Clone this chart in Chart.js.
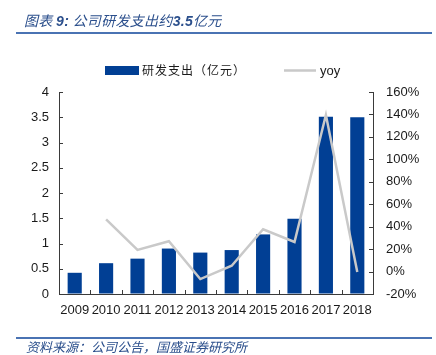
<!DOCTYPE html>
<html><head><meta charset="utf-8">
<script src="https://cdn.jsdelivr.net/npm/chart.js@4/dist/chart.umd.min.js"></script>
<style>
html,body{margin:0;padding:0;background:#fff;}
#wrap{position:relative;width:436px;height:355px;overflow:hidden;}
#c{position:absolute;left:0;top:0;}
.title{position:absolute;left:24px;top:10px;font:italic 14px "Noto Sans CJK SC";color:#2b4f8c;white-space:nowrap;letter-spacing:0.3px;}
.title b{font-family:"Liberation Sans";font-weight:bold;}
.rule{position:absolute;left:16px;width:416px;height:2px;background:#4a73b3;}
.src{position:absolute;left:26px;top:337px;font:italic 13px "Noto Sans CJK SC";color:#2b4f8c;white-space:nowrap;}
</style></head>
<body>
<div id="wrap">
<canvas id="c" width="436" height="355"></canvas>
<div class="title">图表 <b>9:</b> 公司研发支出约<b>3.5</b>亿元</div>
<div class="rule" style="top:32px"></div>
<div class="rule" style="top:337px;height:1.5px"></div>
<div class="src">资料来源：公司公告，国盛证券研究所</div>
</div>
<script>
const years = ['2009','2010','2011','2012','2013','2014','2015','2016','2017','2018'];
const rdSpend = [0.42, 0.61, 0.70, 0.90, 0.82, 0.87, 1.18, 1.49, 3.51, 3.50];
const yoyPct = [null, 46.5, 19.3, 27.0, -6.7, 5.2, 37.7, 26.4, 139.6, -0.3];
const leftTicks = [0, 0.5, 1, 1.5, 2, 2.5, 3, 3.5, 4];
const rightTicks = [-20, 0, 20, 40, 60, 80, 100, 120, 140, 160];
const barLabel = '研发支出（亿元）';
const lineLabel = 'yoy';

const BAR = '#013f94';
const LINE = '#c9c9c9';
const AXIS = '#3a3a3a';
const TXT = '#1a1a1a';

const customDeco = {
  id: 'customDeco',
  afterDraw(chart) {
    const ctx = chart.ctx, a = chart.chartArea;
    const y = chart.scales.y, y1 = chart.scales.y1, x = chart.scales.x;
    ctx.save();
    ctx.strokeStyle = AXIS; ctx.lineWidth = 1;
    ctx.beginPath();
    leftTicks.forEach(v => { const p = Math.round(y.getPixelForValue(v)) + 0.5; ctx.moveTo(a.left, p); ctx.lineTo(a.left + 4, p); });
    rightTicks.forEach(v => { const p = Math.round(y1.getPixelForValue(v)) + 0.5; ctx.moveTo(a.right - 4, p); ctx.lineTo(a.right, p); });
    for (let i = 0; i <= years.length; i++) {
      const p = Math.round(x.getPixelForValue(i - 0.5)) + 0.5;
      ctx.moveTo(p, a.bottom); ctx.lineTo(p, a.bottom - 4);
    }
    ctx.stroke();
    // legend
    const ds = chart.data.datasets;
    ctx.fillStyle = ds[0].backgroundColor;
    ctx.fillRect(105, 66, 34, 9);
    ctx.fillStyle = TXT;
    ctx.textBaseline = 'middle';
    ctx.font = '12px "Noto Sans CJK SC"';
    ctx.letterSpacing = '1px';
    ctx.fillText(ds[0].label, 142, 70.5);
    ctx.letterSpacing = '0px';
    ctx.strokeStyle = ds[1].borderColor; ctx.lineWidth = 2.5;
    ctx.beginPath(); ctx.moveTo(284, 70.5); ctx.lineTo(316, 70.5); ctx.stroke();
    ctx.font = '13px "Liberation Sans"';
    ctx.fillText(ds[1].label, 320, 71);
    ctx.restore();
  }
};

new Chart(document.getElementById('c'), {
  type: 'bar',
  data: {
    labels: years,
    datasets: [
      { type: 'bar', label: barLabel, data: rdSpend, backgroundColor: BAR, yAxisID: 'y', order: 2,
        barPercentage: 0.45, categoryPercentage: 1.0 },
      { type: 'line', label: lineLabel, data: yoyPct, borderColor: LINE, backgroundColor: LINE, borderWidth: 2.5,
        pointRadius: 0, tension: 0, yAxisID: 'y1', order: 1, spanGaps: false }
    ]
  },
  options: {
    responsive: false,
    animation: false,
    devicePixelRatio: 1,
    layout: { padding: { top: 92, left: 0, right: 0, bottom: 0 } },
    plugins: { legend: { display: false }, tooltip: { enabled: false }, title: { display: false } },
    scales: {
      x: {
        grid: { display: true, drawOnChartArea: false, drawTicks: false },
        border: { display: true, color: AXIS, width: 1 },
        ticks: { color: TXT, font: { family: 'Liberation Sans', size: 13 }, padding: 9, maxRotation: 0, autoSkip: false },
        afterFit(s) { s.height = 61; }
      },
      y: {
        position: 'left', min: 0, max: 4,
        afterBuildTicks(s) { s.ticks = leftTicks.map(v => ({ value: v })); },
        grid: { display: true, drawOnChartArea: false, drawTicks: false },
        border: { display: true, color: AXIS, width: 1 },
        ticks: { color: TXT, font: { family: 'Liberation Sans', size: 13 }, padding: 10, callback: v => String(v) },
        afterFit(s) { s.width = 59; }
      },
      y1: {
        position: 'right', min: -20, max: 160,
        afterBuildTicks(s) { s.ticks = rightTicks.map(v => ({ value: v })); },
        grid: { display: true, drawOnChartArea: false, drawTicks: false },
        border: { display: true, color: AXIS, width: 1 },
        ticks: { color: TXT, font: { family: 'Liberation Sans', size: 13 }, padding: 13, callback: v => v + '%' },
        afterFit(s) { s.width = 63; }
      }
    }
  },
  plugins: [customDeco]
});
</script>
</body></html>
